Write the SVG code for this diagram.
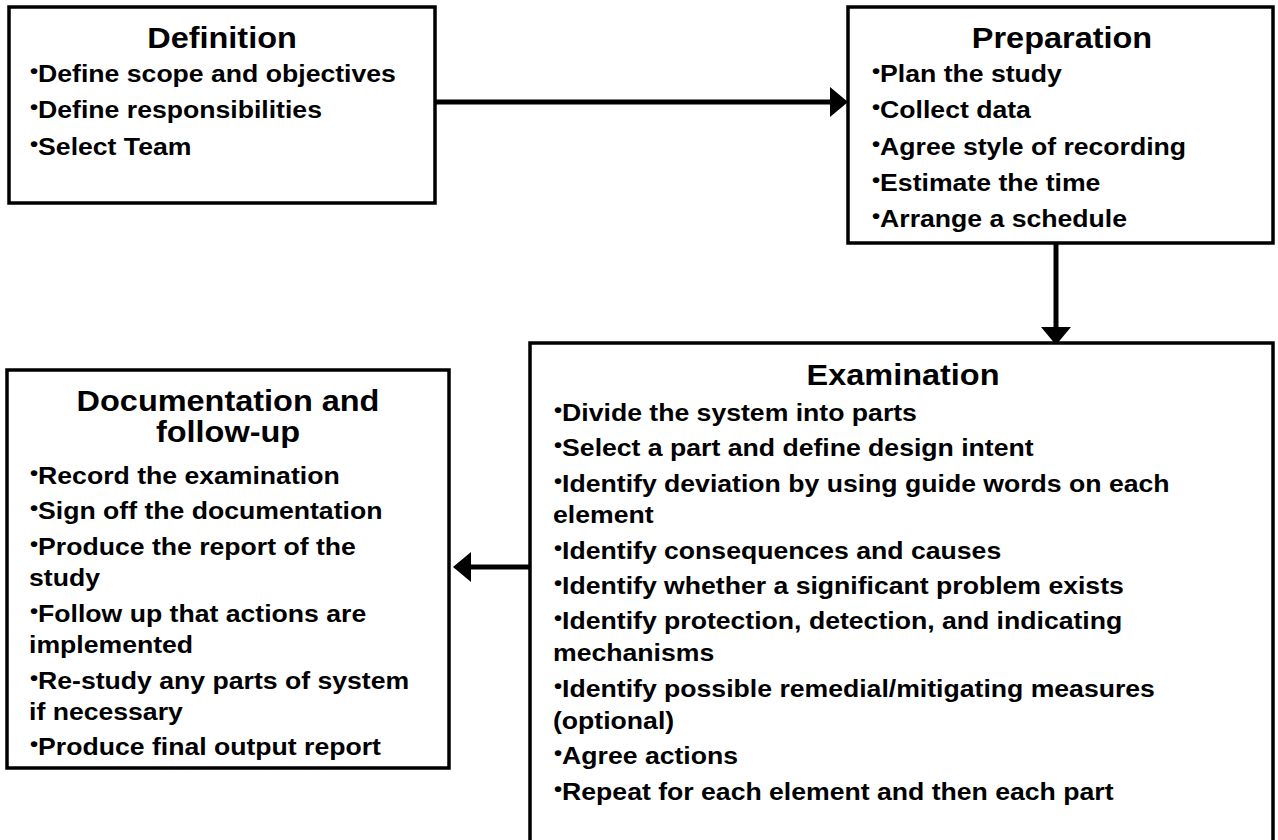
<svg xmlns="http://www.w3.org/2000/svg" width="1278" height="840" viewBox="0 0 1278 840">
<style>
.box{fill:#fff;stroke:#000;stroke-width:3.5}
.t{font-family:"Liberation Sans",Arial,sans-serif;font-weight:bold;fill:#000}
.h{font-size:29.5px;text-anchor:middle}
.b{font-size:24.2px}
.d{font-size:21px;baseline-shift:4px}
.c{stroke:#000;stroke-width:5;fill:none}
</style>
<defs>
<marker id="ah" viewBox="0 0 18 30" refX="1" refY="15" markerWidth="18" markerHeight="30" markerUnits="userSpaceOnUse" orient="auto">
<path d="M0,0 L18,15 L0,30 Z" fill="#000"/>
</marker>
</defs>
<rect width="1278" height="840" fill="#fff"/>
<g id="connectors">
<line class="c" x1="433" y1="102" x2="831" y2="102" marker-end="url(#ah)"/>
<line class="c" x1="1056" y1="243" x2="1056" y2="328" marker-end="url(#ah)"/>
<line class="c" x1="530" y1="567" x2="470" y2="567" marker-end="url(#ah)"/>
</g>
<g id="definition">
<rect class="box" x="9" y="7" width="426" height="196"/>
<text class="t h" transform="translate(222,48) scale(1.1,1)">Definition</text>
<text class="t b" transform="translate(30,82) scale(1.1,1)"><tspan class="d">•</tspan>Define scope and objectives</text>
<text class="t b" transform="translate(30,118) scale(1.1,1)"><tspan class="d">•</tspan>Define responsibilities</text>
<text class="t b" transform="translate(30,155) scale(1.1,1)"><tspan class="d">•</tspan>Select Team</text>
</g>
<g id="preparation">
<rect class="box" x="848" y="7" width="425" height="236"/>
<text class="t h" transform="translate(1062,48) scale(1.1,1)">Preparation</text>
<text class="t b" transform="translate(872,82) scale(1.1,1)"><tspan class="d">•</tspan>Plan the study</text>
<text class="t b" transform="translate(872,118) scale(1.1,1)"><tspan class="d">•</tspan>Collect data</text>
<text class="t b" transform="translate(872,155) scale(1.1,1)"><tspan class="d">•</tspan>Agree style of recording</text>
<text class="t b" transform="translate(872,191) scale(1.1,1)"><tspan class="d">•</tspan>Estimate the time</text>
<text class="t b" transform="translate(872,227) scale(1.1,1)"><tspan class="d">•</tspan>Arrange a schedule</text>
</g>
<g id="examination">
<rect class="box" x="530" y="343" width="743" height="520"/>
<text class="t h" transform="translate(903,385) scale(1.1,1)">Examination</text>
<text class="t b" transform="translate(554,421) scale(1.1,1)"><tspan class="d">•</tspan>Divide the system into parts</text>
<text class="t b" transform="translate(554,456) scale(1.1,1)"><tspan class="d">•</tspan>Select a part and define design intent</text>
<text class="t b" transform="translate(554,492) scale(1.1,1)"><tspan class="d">•</tspan>Identify deviation by using guide words on each</text>
<text class="t b" transform="translate(553,523) scale(1.1,1)">element</text>
<text class="t b" transform="translate(554,559) scale(1.1,1)"><tspan class="d">•</tspan>Identify consequences and causes</text>
<text class="t b" transform="translate(554,594) scale(1.1,1)"><tspan class="d">•</tspan>Identify whether a significant problem exists</text>
<text class="t b" transform="translate(554,629) scale(1.1,1)"><tspan class="d">•</tspan>Identify protection, detection, and indicating</text>
<text class="t b" transform="translate(553,661) scale(1.1,1)">mechanisms</text>
<text class="t b" transform="translate(554,697) scale(1.1,1)"><tspan class="d">•</tspan>Identify possible remedial/mitigating measures</text>
<text class="t b" transform="translate(553,729) scale(1.1,1)">(optional)</text>
<text class="t b" transform="translate(554,764) scale(1.1,1)"><tspan class="d">•</tspan>Agree actions</text>
<text class="t b" transform="translate(554,800) scale(1.1,1)"><tspan class="d">•</tspan>Repeat for each element and then each part</text>
</g>
<g id="documentation">
<rect class="box" x="7" y="370" width="442" height="398"/>
<text class="t h" transform="translate(228,411) scale(1.1,1)">Documentation and</text>
<text class="t h" transform="translate(228,442) scale(1.1,1)">follow-up</text>
<text class="t b" transform="translate(30,484) scale(1.1,1)"><tspan class="d">•</tspan>Record the examination</text>
<text class="t b" transform="translate(30,519) scale(1.1,1)"><tspan class="d">•</tspan>Sign off the documentation</text>
<text class="t b" transform="translate(30,555) scale(1.1,1)"><tspan class="d">•</tspan>Produce the report of the</text>
<text class="t b" transform="translate(29,586) scale(1.1,1)">study</text>
<text class="t b" transform="translate(30,622) scale(1.1,1)"><tspan class="d">•</tspan>Follow up that actions are</text>
<text class="t b" transform="translate(29,653) scale(1.1,1)">implemented</text>
<text class="t b" transform="translate(30,689) scale(1.1,1)"><tspan class="d">•</tspan>Re-study any parts of system</text>
<text class="t b" transform="translate(29,720) scale(1.1,1)">if necessary</text>
<text class="t b" transform="translate(30,755) scale(1.1,1)"><tspan class="d">•</tspan>Produce final output report</text>
</g>
</svg>
